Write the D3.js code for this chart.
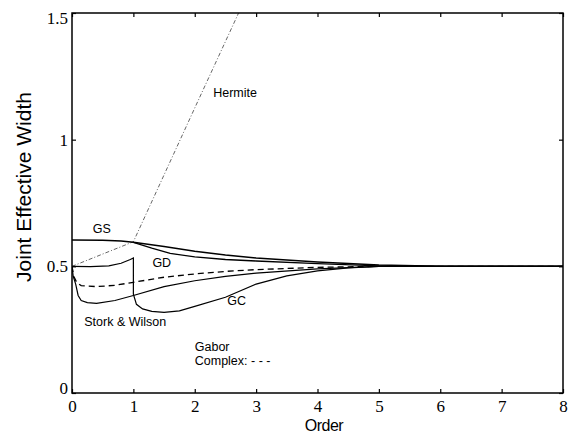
<!DOCTYPE html>
<html>
<head>
<meta charset="utf-8">
<script src="https://cdn.jsdelivr.net/npm/d3@7"></script>
<style>
  body { margin: 0; background: #fff; }
  svg { display: block; }
  .lbl { font-family: "Liberation Sans", Arial, sans-serif; font-size: 12.5px; fill: #000; }
</style>
</head>
<body>
<div id="chart"></div>
<script>
var w = 577;
var h = 443;
var margin = { top: 13, right: 14, bottom: 50, left: 72 };

// x ticks and y ticks
var xTicks = [0, 1, 2, 3, 4, 5, 6, 7, 8];
var yTicks = [0, 0.5, 1, 1.5];

// GS curve
var gsOrder = [0, 0.5, 0.8, 1, 1.5, 2, 2.5, 3, 4, 5, 6, 8];
var gsWidth = [0.604, 0.603, 0.600, 0.595, 0.578, 0.560, 0.545, 0.533, 0.517, 0.505, 0.5, 0.5];

// GD curve (from order 1)
var gdOrder = [1, 1.3, 1.6, 2, 2.5, 3, 4, 5, 6, 8];
var gdWidth = [0.595, 0.572, 0.551, 0.537, 0.527, 0.521, 0.511, 0.502, 0.5, 0.5];

// GC curve, with the drop at order 1
var gcOrder = [0, 0.3, 0.6, 0.8, 0.95, 1, 1, 1.05, 1.15, 1.3, 1.5, 1.75, 2, 2.5, 3, 3.5, 4, 4.5, 5, 6, 8];
var gcWidth = [0.5, 0.499, 0.502, 0.512, 0.527, 0.533, 0.39, 0.35, 0.332, 0.322, 0.318, 0.324, 0.342, 0.378, 0.43, 0.462, 0.482, 0.494, 0.5, 0.5, 0.5];

// Stork & Wilson
var swOrder = [0, 0.02, 0.06, 0.1, 0.15, 0.25, 0.4, 0.7, 1, 1.5, 2, 2.5, 3, 4, 5, 8];
var swWidth = [0.5, 0.46, 0.43, 0.385, 0.365, 0.357, 0.354, 0.365, 0.385, 0.42, 0.443, 0.46, 0.473, 0.49, 0.5, 0.5];

// Gabor complex (dashed)
var gaborOrder = [0, 0.03, 0.08, 0.15, 0.4, 0.7, 1, 1.5, 2, 2.5, 3, 4, 5, 8];
var gaborWidth = [0.5, 0.46, 0.435, 0.424, 0.42, 0.425, 0.437, 0.457, 0.47, 0.48, 0.487, 0.496, 0.5, 0.5];

// Hermite (dash-dot)
var hermiteOrder = [0, 1, 2, 3];
var hermiteWidth = [0.5, 0.597, 1.125, 1.65];

var svg = d3.select("#chart")
	.append("svg")
	.attr("width", w)
	.attr("height", h);

var x = d3.scaleLinear().domain([0, 8]).range([margin.left, w - margin.right]);
var y = d3.scaleLinear().domain([0, 1.5]).range([h - margin.bottom, margin.top]);

svg.append("clipPath").attr("id", "plotClip")
	.append("rect")
	.attr("x", margin.left).attr("y", margin.top)
	.attr("width", x(8) - x(0)).attr("height", y(0) - y(1.5));

function pairs(xs, ys) {
	return xs.map(function (v, i) { return [v, ys[i]]; });
}

var line = d3.line()
	.x(function (d) { return x(d[0]); })
	.y(function (d) { return y(d[1]); });

var plot = svg.append("g").attr("clip-path", "url(#plotClip)");

function addCurve(xs, ys, width, dash, stroke) {
	plot.append("path")
		.datum(pairs(xs, ys))
		.attr("d", line)
		.attr("fill", "none")
		.attr("stroke", stroke || "#000")
		.attr("stroke-width", width)
		.attr("stroke-dasharray", dash || null);
}

addCurve(hermiteOrder, hermiteWidth, 0.9, "4,2,1,2", "#555");
addCurve(gsOrder, gsWidth, 1.5);
addCurve(gdOrder, gdWidth, 1.3);
addCurve(gcOrder, gcWidth, 1.2);
addCurve(swOrder, swWidth, 1.2);
addCurve(gaborOrder, gaborWidth, 1.3, "6,4");

// axes with inward ticks
svg.append("g")
	.attr("transform", "translate(0," + y(0) + ")")
	.call(d3.axisBottom(x).tickValues(xTicks).tickSizeInner(-4).tickSizeOuter(0).tickPadding(7).tickFormat(d3.format("d")))
	.call(function (g) { g.select(".domain").remove(); });

svg.append("g")
	.attr("transform", "translate(0," + y(1.5) + ")")
	.call(d3.axisTop(x).tickValues(xTicks).tickSizeInner(-4).tickSizeOuter(0).tickFormat(""))
	.call(function (g) { g.select(".domain").remove(); });

var yAxis = svg.append("g")
	.attr("transform", "translate(" + x(0) + ",0)")
	.call(d3.axisLeft(y).tickValues(yTicks).tickSizeInner(-4).tickSizeOuter(0).tickPadding(4).tickFormat(function (d) { return d3.format("")(d); }))
	.call(function (g) { g.select(".domain").remove(); });

yAxis.selectAll(".tick text")
	.attr("dy", function (d) { return d == 0 ? "0.02em" : d == 1.5 ? "0.62em" : "0.32em"; });

svg.append("g")
	.attr("transform", "translate(" + x(8) + ",0)")
	.call(d3.axisRight(y).tickValues(yTicks).tickSizeInner(-4).tickSizeOuter(0).tickFormat(""))
	.call(function (g) { g.select(".domain").remove(); });

svg.selectAll(".tick line").attr("stroke", "#000").attr("stroke-width", 1.2);
svg.selectAll(".tick text")
	.attr("fill", "#000")
	.style("font-family", "'Liberation Serif', 'DejaVu Serif', serif")
	.style("font-size", "17px");

svg.append("rect")
	.attr("x", x(0)).attr("y", y(1.5))
	.attr("width", x(8) - x(0)).attr("height", y(0) - y(1.5))
	.attr("fill", "none")
	.attr("stroke", "#000")
	.attr("stroke-width", 1.5);

// axis titles
svg.append("text")
	.attr("class", "lbl")
	.attr("x", 324)
	.attr("y", 431)
	.attr("text-anchor", "middle")
	.style("font-size", "16px")
	.style("letter-spacing", "-0.5px")
	.text("Order");

svg.append("text")
	.attr("class", "lbl")
	.attr("transform", "translate(31," + 187 + ") rotate(-90)")
	.attr("text-anchor", "middle")
	.style("font-size", "21px")
	.text("Joint Effective Width");

// curve labels
var labels = [
	{ t: "Hermite", o: 2.3, v: 1.17 },
	{ t: "GS", o: 0.34, v: 0.632 },
	{ t: "GD", o: 1.31, v: 0.498 },
	{ t: "GC", o: 2.53, v: 0.346 },
	{ t: "Stork & Wilson", o: 0.2, v: 0.264 },
	{ t: "Gabor", o: 2.0, v: 0.165 },
	{ t: "Complex: - - -", o: 2.0, v: 0.11 }
];

svg.selectAll(".curveLabel")
	.data(labels)
	.enter()
	.append("text")
	.attr("class", "lbl curveLabel")
	.attr("x", function (d) { return x(d.o); })
	.attr("y", function (d) { return y(d.v); })
	.text(function (d) { return d.t; });
</script>
</body>
</html>
